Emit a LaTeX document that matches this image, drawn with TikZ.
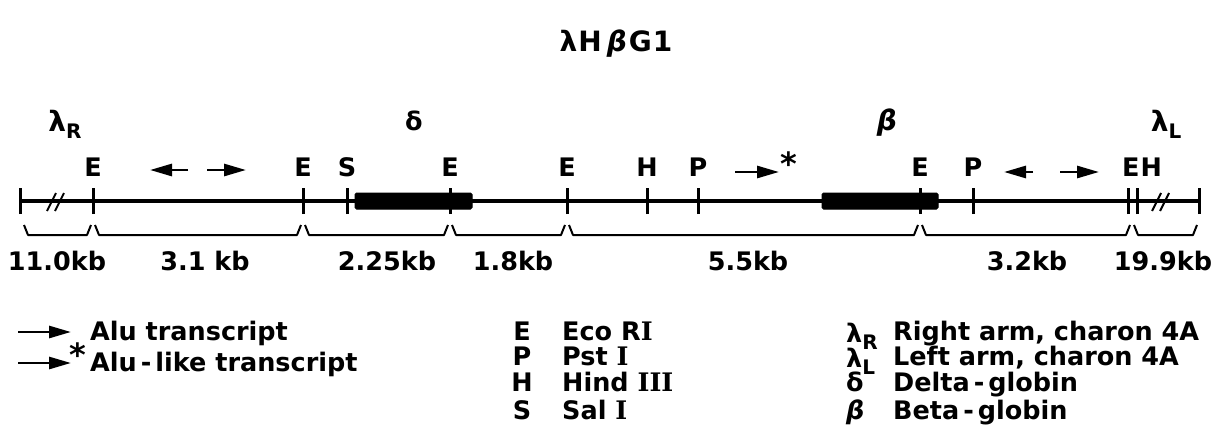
\documentclass[tikz,border=0pt]{standalone}
\usepackage{fontspec}
\setmainfont{DejaVu Sans Bold}[ItalicFont={DejaVu Sans Bold Oblique}]
\newfontfamily\romnum{DejaVu Serif Bold}
\usetikzlibrary{arrows.meta}
\newcommand{\sub}[1]{\raisebox{-7pt}{\fontsize{20}{20}\selectfont #1}}
\newcommand{\dash}{\hspace{4pt}-\hspace{4pt}}
\begin{document}
\begin{tikzpicture}[x=1pt,y=-1pt,
  lbl/.style={inner sep=0pt, text height=19pt, text depth=3pt, font=\fontsize{25.5}{28}\selectfont},
  leg/.style={lbl, anchor=west},
  tk/.style={line width=3pt},
  mainline/.style={line width=3.6pt},
  gene/.style={fill=black, draw=black, line width=1pt, rounded corners=1.5pt},
  brace/.style={line width=2pt, line join=round},
  arr/.style={line width=2.8pt, -{Triangle[length=22pt,width=12pt]}},
  slash/.style={line width=2pt}]
\useasboundingbox (0,0) rectangle (1212,447);

% title
\node[inner sep=0pt, font=\fontsize{28}{30}\selectfont] (title) at (616,44) {λ\hspace{1pt}H\hspace{5pt}\textit{β}\hspace{2pt}G\hspace{1pt}1};

% region labels
\node[lbl, font=\fontsize{28}{30}\selectfont] (lR) at (65,123) {λ\sub{R}};
\node[lbl] (delta) at (414,122) {δ};
\node[lbl, font=\fontsize{28}{30}\selectfont] (beta) at (887,122) {\textit{β}};
\node[lbl, font=\fontsize{28}{30}\selectfont] (lL) at (1166,123) {λ\sub{L}};

% site coordinates
\coordinate (L0) at (20,201);
\coordinate (E1) at (93,201);
\coordinate (E2) at (303,201);
\coordinate (S1) at (347,201);
\coordinate (E3) at (450,201);
\coordinate (E4) at (567,201);
\coordinate (H1) at (647,201);
\coordinate (P1) at (698,201);
\coordinate (E5) at (920,201);
\coordinate (P2) at (973,201);
\coordinate (E6) at (1128,201);
\coordinate (H2) at (1137,201);
\coordinate (R0) at (1199,201);

% main line
\draw[mainline] (L0) -- (R0);
% genes
\draw[gene] (355,193) rectangle (472,209);
\draw[gene] (822,193) rectangle (938,209);
% breaks
\draw[slash] (47,211) -- (56,193);
\draw[slash] (55,211) -- (64,193);
\draw[slash] (1152,211) -- (1161,193);
\draw[slash] (1160,211) -- (1169,193);

% ticks
\foreach \c in {L0,E1,E2,S1,E3,E4,H1,P1,E5,P2,E6,H2,R0}
  \draw[tk] ([yshift=-13pt]\c) -- ([yshift=13pt]\c);

% site letters
\node[lbl] (tE1) at (93,168) {E};
\node[lbl] (tE2) at (303,168) {E};
\node[lbl] (tS1) at (347,168) {S};
\node[lbl] (tE3) at (450,168) {E};
\node[lbl] (tE4) at (567,168) {E};
\node[lbl] (tH1) at (647,168) {H};
\node[lbl] (tP1) at (698,168) {P};
\node[lbl] (tE5) at (920,168) {E};
\node[lbl] (tP2) at (973,168) {P};
\node[lbl] (tEH) at (1142,168) {E\hspace{1pt}H};

% transcript arrows on the map
\coordinate (a1s) at (188,170); \coordinate (a1e) at (150,170);
\coordinate (a2s) at (207,170); \coordinate (a2e) at (246,170);
\coordinate (a3s) at (735,172); \coordinate (a3e) at (779,172);
\coordinate (a4s) at (1033,172); \coordinate (a4e) at (1004,172);
\coordinate (a5s) at (1060,172); \coordinate (a5e) at (1099,172);
\draw[arr] (a1s) -- (a1e);
\draw[arr] (a2s) -- (a2e);
\draw[arr] (a3s) -- (a3e);
\draw[arr] (a4s) -- (a4e);
\draw[arr] (a5s) -- (a5e);
\node[inner sep=0pt, font=\fontsize{32}{32}\selectfont] (star1) at (789,164) {*};

% size braces
\foreach \a/\b in {22/93,93/303,303/450,450/567,567/920,920/1132,1132/1199}
  \draw[brace] (\a+2,225) -- (\a+6,235) -- (\b-6,235) -- (\b-2,225);

% sizes
\node[lbl] (k1) at (57,262) {11.0kb};
\node[lbl] (k2) at (205,262) {3.1 kb};
\node[lbl] (k3) at (387,262) {2.25kb};
\node[lbl] (k4) at (513,262) {1.8kb};
\node[lbl] (k5) at (748,262) {5.5kb};
\node[lbl] (k6) at (1027,262) {3.2kb};
\node[lbl] (k7) at (1163,262) {19.9kb};

% legend: arrows
\coordinate (la1s) at (18,332); \coordinate (la1e) at (71,332);
\coordinate (la2s) at (18,363); \coordinate (la2e) at (71,363);
\draw[arr] (la1s) -- (la1e);
\draw[arr] (la2s) -- (la2e);
\node[inner sep=0pt, font=\fontsize{32}{32}\selectfont] (star2) at (78,355) {*};
\node[leg] (alu) at (90,332) {Alu transcript};
\node[leg] (alul) at (90,363) {Alu\dash like transcript};

% legend: enzymes
\node[lbl] (eE) at (522,332) {E};
\node[lbl] (eP) at (522,357) {P};
\node[lbl] (eH) at (522,383) {H};
\node[lbl] (eS) at (522,411) {S};
\node[leg] (nE) at (562,332) {Eco R{\romnum I}};
\node[leg] (nP) at (562,357) {Pst {\romnum I}};
\node[leg] (nH) at (562,383) {Hind {\romnum III}};
\node[leg] (nS) at (562,411) {Sal {\romnum I}};

% legend: symbols
\node[leg] (sR) at (846,334) {λ\sub{R}};
\node[leg] (sL) at (846,359) {λ\sub{L}};
\node[leg] (sD) at (846,383) {δ};
\node[leg] (sB) at (846,411) {\textit{β}};
\node[leg] (dR) at (893,332) {Right arm, charon 4A};
\node[leg] (dL) at (893,357) {Left arm, charon 4A};
\node[leg] (dD) at (893,383) {Delta\dash globin};
\node[leg] (dB) at (893,411) {Beta\dash globin};
\end{tikzpicture}
\end{document}
